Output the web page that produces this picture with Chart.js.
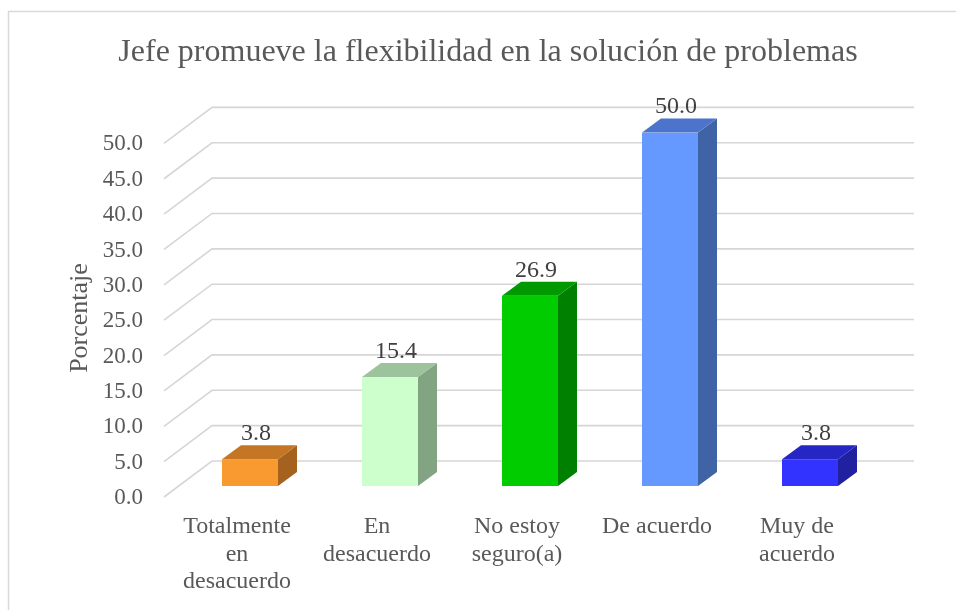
<!DOCTYPE html>
<html>
<head>
<meta charset="utf-8">
<script src="https://cdn.jsdelivr.net/npm/chart.js@4.4.1/dist/chart.umd.min.js"></script>
<style>
  html, body { margin: 0; padding: 0; background: #fff; }
  #wrap { width: 956px; height: 610px; }
</style>
</head>
<body>
<div id="wrap"><canvas id="chart" width="956" height="610"></canvas></div>
<script>
const categories = [
  ['Totalmente', 'en', 'desacuerdo'],
  ['En', 'desacuerdo'],
  ['No estoy', 'seguro(a)'],
  'De acuerdo',
  ['Muy de', 'acuerdo']
];
const percentages = [3.8, 15.4, 26.9, 50.0, 3.8];
const frontColors = ['#F99A31', '#CCFFCC', '#00CC00', '#6699FF', '#3333FF'];
const topColors   = ['#C47624', '#9DC39D', '#009A00', '#4D74CC', '#2626C4'];
const sideColors  = ['#A4621E', '#82A482', '#008000', '#3F63A4', '#2020A0'];

const FONT = "'Liberation Serif', 'Times New Roman', serif";
const TEXT = '#595959';
const DX = 19, DY = 14;     // bar depth offset
const WALL = 25;            // back wall offset above bar plane
const FLOOR = 11;           // front edge offset below bar plane

// 3D grid: diagonal on the side wall, then horizontal along the back wall
const gridPlugin = {
  id: 'grid3d',
  beforeDatasetsDraw(chart) {
    const { ctx, chartArea, scales } = chart;
    const y = scales.y;
    const fx = chartArea.left - 16, bx = chartArea.left + 32, ex = chartArea.right + 34;
    ctx.save();
    ctx.strokeStyle = '#D6D6D6';
    ctx.lineWidth = 1.6;
    y.ticks.forEach(t => {
      const p = y.getPixelForValue(t.value);
      ctx.beginPath();
      ctx.moveTo(fx, p + FLOOR);
      ctx.lineTo(bx, p - WALL);
      ctx.lineTo(ex, p - WALL);
      ctx.stroke();
    });
    ctx.restore();
  }
};

// side and top faces of each bar plus the value label
const boxPlugin = {
  id: 'box3d',
  afterDatasetsDraw(chart) {
    const { ctx } = chart;
    const meta = chart.getDatasetMeta(0);
    ctx.save();
    meta.data.forEach((bar, i) => {
      const l = bar.x - bar.width / 2, r = bar.x + bar.width / 2;
      const t = bar.y, b = bar.base;
      ctx.fillStyle = sideColors[i];
      ctx.beginPath();
      ctx.moveTo(r, t); ctx.lineTo(r + DX, t - DY); ctx.lineTo(r + DX, b - DY); ctx.lineTo(r, b);
      ctx.closePath(); ctx.fill();
      ctx.fillStyle = topColors[i];
      ctx.beginPath();
      ctx.moveTo(l, t); ctx.lineTo(l + DX, t - DY); ctx.lineTo(r + DX, t - DY); ctx.lineTo(r, t);
      ctx.closePath(); ctx.fill();

      ctx.fillStyle = '#404040';
      ctx.font = '24px ' + FONT;
      ctx.textAlign = 'center';
      ctx.textBaseline = 'alphabetic';
      ctx.fillText(percentages[i].toFixed(1), bar.x + 6, t - DY - 5);
    });
    ctx.restore();
  },
  afterDraw(chart) {
    const { ctx } = chart;
    ctx.save();
    // y axis title, centred on the side wall
    ctx.translate(80, 318);
    ctx.rotate(-Math.PI / 2);
    ctx.fillStyle = TEXT;
    ctx.font = '26px ' + FONT;
    ctx.textAlign = 'center';
    ctx.textBaseline = 'middle';
    ctx.fillText('Porcentaje', 0, 0);
    ctx.setTransform(1, 0, 0, 1, 0, 0);
    // outer frame
    ctx.strokeStyle = '#D9D9D9';
    ctx.lineWidth = 1.5;
    ctx.strokeRect(8.5, 11.5, 1200, 800);
    ctx.restore();
  }
};

new Chart(document.getElementById('chart'), {
  type: 'bar',
  data: {
    labels: categories,
    datasets: [{
      data: percentages,
      backgroundColor: frontColors,
      barPercentage: 0.4,
      categoryPercentage: 1.0
    }]
  },
  options: {
    responsive: false,
    animation: false,
    layout: { padding: { left: 96, right: 76, top: 0, bottom: 0 } },
    plugins: {
      legend: { display: false },
      tooltip: { enabled: false },
      title: {
        display: true,
        text: 'Jefe promueve la flexibilidad en la solución de problemas',
        color: TEXT,
        font: { family: FONT, size: 32, weight: 'normal', lineHeight: 1.2 },
        padding: { top: 33, bottom: 61 }
      }
    },
    scales: {
      x: {
        grid: { display: false, drawTicks: false },
        border: { display: false },
        ticks: {
          color: TEXT,
          font: { family: FONT, size: 24, lineHeight: 1.15 },
          padding: 27,
          labelOffset: -13,
          maxRotation: 0,
          autoSkip: false
        },
        afterFit(scale) { scale.height = 124; }
      },
      y: {
        min: 0,
        max: 50,
        grid: { display: false, drawTicks: false },
        border: { display: false },
        ticks: {
          stepSize: 5,
          color: TEXT,
          font: { family: FONT, size: 23 },
          padding: 37,
          labelOffset: 12,
          callback: v => v.toFixed(1)
        },
        afterFit(scale) { scale.width = 84; }
      }
    }
  },
  plugins: [gridPlugin, boxPlugin]
});
</script>
</body>
</html>
